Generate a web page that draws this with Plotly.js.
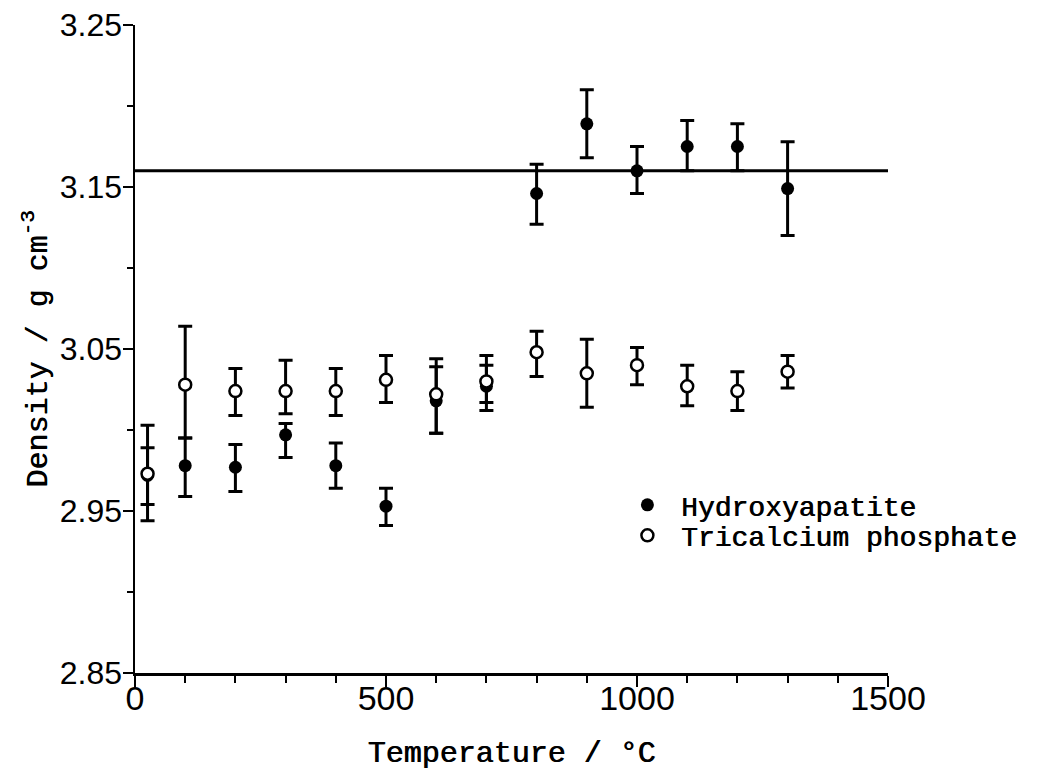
<!DOCTYPE html>
<html>
<head>
<meta charset="utf-8">
<script src="https://cdn.plot.ly/plotly-3.0.1.min.js"></script>
<style>
  html, body { margin: 0; padding: 0; background: #ffffff; }
  #chart { width: 1056px; height: 776px; }
</style>
</head>
<body>
<div id="chart"></div>
<script>
// Temperatures (°C)
const temperatures = [25, 100, 200, 300, 400, 500, 600, 700, 800, 900, 1000, 1100, 1200, 1300];

// Hydroxyapatite density (g cm^-3) with error bars
const haDensity   = [2.972, 2.978, 2.977, 2.997, 2.978, 2.953, 3.018, 3.027, 3.146, 3.189, 3.160, 3.175, 3.175, 3.149];
const haErrPlus   = [0.017, 0.017, 0.014, 0.007, 0.014, 0.011, 0.021, 0.013, 0.018, 0.021, 0.015, 0.016, 0.014, 0.029];
const haErrMinus  = [0.018, 0.019, 0.015, 0.014, 0.014, 0.012, 0.020, 0.010, 0.019, 0.021, 0.014, 0.015, 0.015, 0.029];

// Tricalcium phosphate density (g cm^-3) with error bars
const tcpDensity  = [2.973, 3.028, 3.024, 3.024, 3.024, 3.031, 3.022, 3.030, 3.048, 3.035, 3.040, 3.027, 3.024, 3.036];
const tcpErrPlus  = [0.030, 0.036, 0.014, 0.019, 0.014, 0.015, 0.022, 0.016, 0.013, 0.021, 0.011, 0.013, 0.012, 0.010];
const tcpErrMinus = [0.029, 0.033, 0.015, 0.014, 0.015, 0.014, 0.024, 0.018, 0.015, 0.021, 0.012, 0.012, 0.012, 0.010];

// Reference (theoretical) density line
const refLineX = [0, 1500];
const refLineY = [3.16, 3.16];

// Axis ticks
const xTickVals = [0, 500, 1000, 1500];
const xTickText = ['0', '500', '1000', '1500'];
const yTickVals = [2.85, 2.95, 3.05, 3.15, 3.25];
const yTickText = ['2.85', '2.95', '3.05', '3.15', '3.25'];

const monoFont = 'Liberation Mono, Courier New, DejaVu Sans Mono, monospace';
const thick = '0.7px 0 0 #000';
const legendFont = { family: monoFont, size: 28, color: '#000', shadow: thick };

const traces = [
  {
    x: refLineX, y: refLineY, type: 'scatter', mode: 'lines',
    line: { color: '#000', width: 3 }, showlegend: false, hoverinfo: 'skip'
  },
  {
    x: temperatures, y: haDensity, type: 'scatter', mode: 'markers',
    name: 'Hydroxyapatite', legend: 'legend',
    marker: { symbol: 'circle', size: 13, color: '#000' },
    error_y: { type: 'data', symmetric: false, array: haErrPlus, arrayminus: haErrMinus,
               color: '#000', thickness: 3, width: 7 }
  },
  {
    x: temperatures, y: tcpDensity, type: 'scatter', mode: 'markers',
    name: 'Tricalcium phosphate', legend: 'legend2',
    marker: { symbol: 'circle', size: 12, color: '#fff', line: { color: '#000', width: 2.5 } },
    error_y: { type: 'data', symmetric: false, array: tcpErrPlus, arrayminus: tcpErrMinus,
               color: '#000', thickness: 3, width: 7 }
  }
];

const layout = {
  width: 1056, height: 776,
  paper_bgcolor: '#fff', plot_bgcolor: '#fff',
  margin: { l: 135, r: 168, t: 25, b: 103 },
  showlegend: true,
  legend: {
    x: 0.636, y: 0.259, xanchor: 'left', yanchor: 'middle', itemwidth: 57,
    font: legendFont, bgcolor: 'rgba(0,0,0,0)', borderwidth: 0
  },
  legend2: {
    x: 0.636, y: 0.212, xanchor: 'left', yanchor: 'middle', itemwidth: 57,
    font: legendFont, bgcolor: 'rgba(0,0,0,0)', borderwidth: 0
  },
  xaxis: {
    range: [0, 1500], showgrid: false, zeroline: false,
    showline: true, linecolor: '#000', linewidth: 2.5,
    ticks: 'outside', ticklen: 11, tickwidth: 2.5, tickcolor: '#000',
    tickmode: 'array', tickvals: xTickVals, ticktext: xTickText,
    ticklabelstandoff: -17,
    tickfont: { family: 'Liberation Sans Narrow, Arial Narrow, Liberation Sans, Arial, sans-serif', size: 34, color: '#000' },
    minor: { dtick: 100, tick0: 0, ticks: 'outside', ticklen: 7, tickwidth: 2, tickcolor: '#000', showgrid: false },
    title: { text: 'Temperature / °C', font: { family: monoFont, size: 30, color: '#000', shadow: thick }, standoff: 25 },
    automargin: false, fixedrange: true
  },
  yaxis: {
    range: [2.85, 3.25], showgrid: false, zeroline: false,
    showline: true, linecolor: '#000', linewidth: 2.5,
    ticks: 'outside', ticklen: 10, tickwidth: 2.5, tickcolor: '#000',
    tickmode: 'array', tickvals: yTickVals, ticktext: yTickText,
    ticklabelstandoff: -6,
    tickfont: { family: 'Liberation Sans, Arial, sans-serif', size: 32, color: '#000' },
    minor: { dtick: 0.05, tick0: 2.85, ticks: 'outside', ticklen: 6, tickwidth: 2, tickcolor: '#000', showgrid: false },
    title: { text: 'Density / g cm<sup>-3</sup>', font: { family: monoFont, size: 30, color: '#000', shadow: thick }, standoff: 4 },
    automargin: false, fixedrange: true
  }
};

Plotly.newPlot('chart', traces, layout, { displayModeBar: false, staticPlot: true });
</script>
</body>
</html>
